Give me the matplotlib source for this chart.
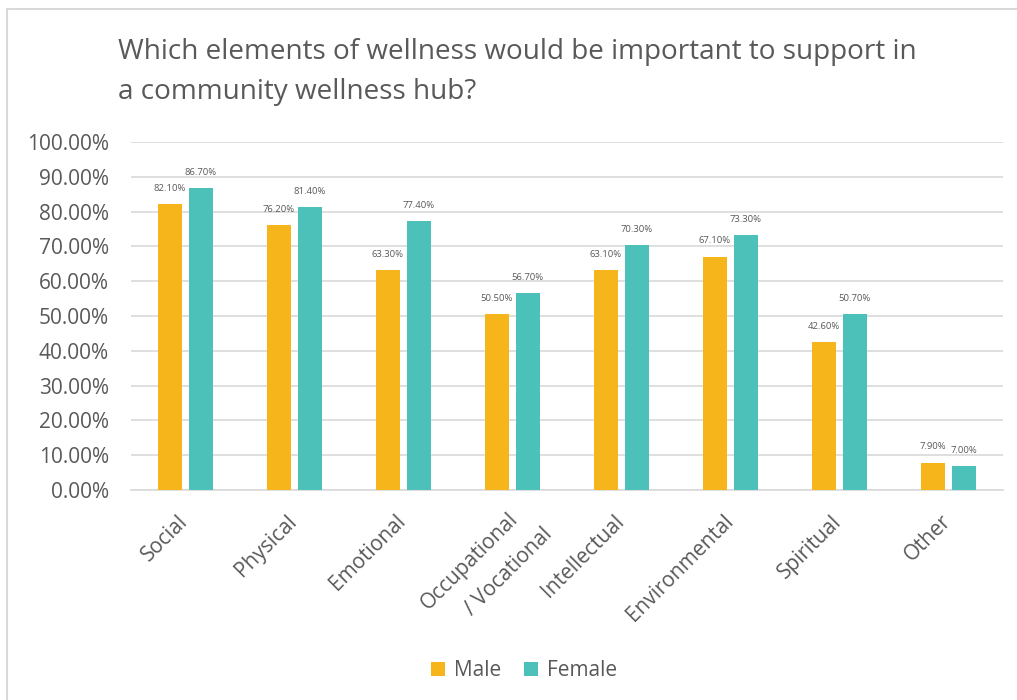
import matplotlib.pyplot as plt
import matplotlib.transforms as mtransforms
from matplotlib.patches import Rectangle
import numpy as np

# chart data
categories = ["Social", "Physical", "Emotional", "Occupational\n     / Vocational",
              "Intellectual", "Environmental", "Spiritual", "Other"]
male = [82.1, 76.2, 63.3, 50.5, 63.1, 67.1, 42.6, 7.9]
female = [86.7, 81.4, 77.4, 56.7, 70.3, 73.3, 50.7, 7.0]

male_color = "#F6B61B"
female_color = "#4CC1BA"
text_color = "#595959"

plt.rcParams['font.family'] = ['Open Sans', 'DejaVu Sans']

fig = plt.figure(figsize=(10.17, 7), dpi=100)
ax = fig.add_axes([0.1288, 0.3, 0.8572, 0.497])

# chart frame: only the left and top edges fall inside the picture
fig.add_artist(Rectangle((6.5 / 1017, -0.1), 1.2, 1.1 - 9.5 / 700,
                         transform=fig.transFigure, fill=False,
                         edgecolor="#D9D9D9", linewidth=1.5))

x = np.arange(len(categories))
w = 0.22
gap = 0.065
off = (w + gap) / 2

bars_m = ax.bar(x - off, male, w, color=male_color, label="Male", zorder=3)
bars_f = ax.bar(x + off, female, w, color=female_color, label="Female", zorder=3)

for bars, vals in [(bars_m, male), (bars_f, female)]:
    for b, v in zip(bars, vals):
        ax.annotate(f"{v:.2f}%", (b.get_x() + b.get_width() / 2, v),
                    xytext=(0, 8), textcoords="offset points",
                    ha="center", va="bottom", fontsize=6.8, color=text_color)

ax.set_xlim(-0.5, len(categories) - 0.5)
ax.set_ylim(0, 100)
ax.set_yticks(np.arange(0, 101, 10))
ax.set_yticklabels([f"{t:.2f}%" for t in np.arange(0, 101, 10)],
                   fontsize=15, color=text_color)
ax.set_xticks(x)
ax.set_xticklabels(categories, rotation=45, ha="right", va="top",
                   rotation_mode="anchor", fontsize=15, color=text_color,
                   multialignment="left", linespacing=1.9)
ax.tick_params(axis="both", length=0)
ax.tick_params(axis="x", pad=15)
ax.tick_params(axis="y", pad=16)

# move the rotated labels so their ends sit just right of the category centre
for i, lbl in enumerate(ax.get_xticklabels()):
    dx, dy = -8, 0
    if "\n" in categories[i]:
        dx, dy = dx + 12, dy + 12
    shift = mtransforms.ScaledTranslation(dx / 100, dy / 100, fig.dpi_scale_trans)
    lbl.set_transform(lbl.get_transform() + shift)

ax.grid(axis="y", color="#D9D9D9", linewidth=1.2, zorder=0)
for s in ["top", "right", "left"]:
    ax.spines[s].set_visible(False)
ax.spines["bottom"].set_color("#D9D9D9")
ax.spines["bottom"].set_linewidth(1.2)

fig.text(0.116, 0.945, "Which elements of wellness would be important to support in\na community wellness hub?",
         ha="left", va="top", fontsize=20.1, color=text_color, linespacing=1.55)

fig.legend(loc="lower center", bbox_to_anchor=(0.515, 0.0), ncol=2, frameon=False,
           fontsize=15, handlelength=0.7, handleheight=0.7, handletextpad=0.4,
           columnspacing=1.1, labelcolor=text_color)

fig.savefig("out.png", dpi=100)
